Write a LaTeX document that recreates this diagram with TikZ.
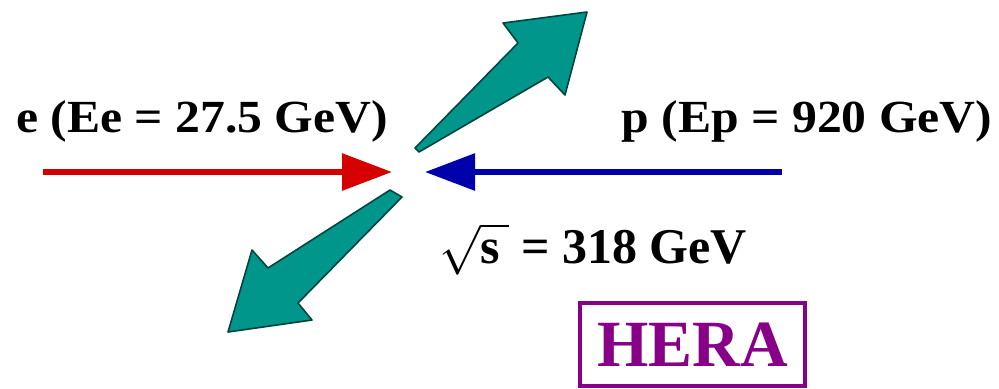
\documentclass[tikz,border=0pt]{standalone}
\usepackage{fontspec}
\setmainfont{Liberation Serif}
\usepackage{tikz}
\usetikzlibrary{positioning,arrows.meta}
\definecolor{beamred}{RGB}{215,0,0}
\definecolor{beamblue}{RGB}{0,0,170}
\definecolor{jetteal}{RGB}{0,150,140}
\definecolor{herapurple}{RGB}{135,0,135}

\begin{document}
\begin{tikzpicture}[x=0.5pt,y=-0.5pt,
    beam/.style={line width=3pt,-{Triangle[length=25pt,width=18pt]}},
    jet/.style={fill=jetteal,draw=jetteal!45!black,line width=0.8pt,line join=round},
    lbl/.style={font=\bfseries\fontsize{23}{23}\selectfont,xscale=1.08,transform shape,inner sep=0pt,anchor=base}]
    \useasboundingbox (0,0) rectangle (999,388);
    % beams
    \coordinate (eTail) at (43,172);  \coordinate (eTip) at (392,172);
    \coordinate (pTail) at (782,172); \coordinate (pTip) at (425,172);
    \draw[beam,beamred]  (eTail) -- (eTip);
    \draw[beam,beamblue] (pTail) -- (pTip);
    % outgoing jets
    \filldraw[jet] (415,148) -- (518,43) -- (503,23) -- (587,12) -- (565,95) -- (548,77) -- (419,152) -- cycle;
    \filldraw[jet] (390,190) -- (268,268) -- (252,250) -- (228,332) -- (312,320) -- (298,303) -- (402,197) -- cycle;
    % labels
    \node[lbl] (eLabel) at (202,132) {e (Ee = 27.5 GeV)};
    \node[lbl] (pLabel) at (807,132) {p (Ep = 920 GeV)};
    \node[font=\bfseries\fontsize{25}{25}\selectfont,inner sep=0pt,anchor=base] (sqrtS) at (593,263)
        {{\fontsize{34}{34}\selectfont$\sqrt{\hbox{\bfseries\fontsize{25}{25}\selectfont s\,}}$} = 318 GeV};
    \node[draw=herapurple,line width=2pt,text=herapurple,font=\bfseries\fontsize{33}{33}\selectfont,
          minimum width=112.5pt,minimum height=41.5pt,inner sep=0pt] (hera) at (692.5,344.5) {HERA};
\end{tikzpicture}
\end{document}
